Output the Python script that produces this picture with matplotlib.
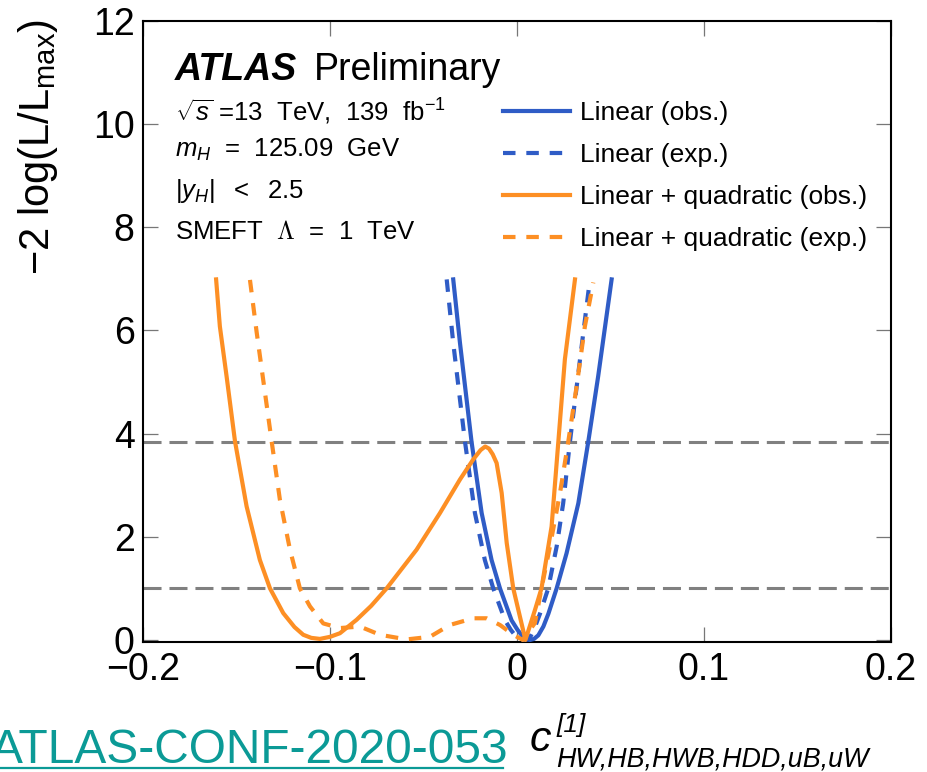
import matplotlib
matplotlib.use("Agg")
import matplotlib.pyplot as plt
from matplotlib.lines import Line2D

plt.rcParams["font.family"] = ["Liberation Sans", "DejaVu Sans"]
plt.rcParams["mathtext.fontset"] = "custom"
plt.rcParams["mathtext.rm"] = "Liberation Sans"
plt.rcParams["mathtext.it"] = "Liberation Sans:italic"
plt.rcParams["mathtext.bf"] = "Liberation Sans:bold"
plt.rcParams["mathtext.sf"] = "Liberation Sans"
plt.rcParams["axes.unicode_minus"] = True

# ---- likelihood scans: -2 log(L/Lmax) versus the Wilson coefficient ----
lin_obs_x = [-0.0341, -0.0305, -0.0243, -0.0189, -0.0136, -0.0091, -0.0029, 0.0002,
             0.0034, 0.0052, 0.0070, 0.0091, 0.0114, 0.0141, 0.0168, 0.0212, 0.0265,
             0.0328, 0.0381, 0.0434, 0.0506]
lin_obs_y = [6.99, 5.76, 3.84, 2.46, 1.55, 1.00, 0.38, 0.20,
             0.05, 0.01, 0.00, 0.02, 0.09, 0.26, 0.51, 1.00, 1.68,
             2.65, 3.84, 5.11, 6.99]

lin_exp_x = [-0.0376, -0.0341, -0.0278, -0.0225, -0.0172, -0.0127, -0.0064, -0.0034,
             -0.0002, 0.0016, 0.0034, 0.0052, 0.0070, 0.0096, 0.0123, 0.0167, 0.0212,
             0.0247, 0.0283, 0.0337, 0.0390]
lin_exp_y = [6.99, 5.76, 3.84, 2.46, 1.55, 1.00, 0.38, 0.20,
             0.05, 0.01, 0.00, 0.01, 0.05, 0.25, 0.51, 1.00, 1.81,
             2.65, 3.84, 5.44, 6.99]

quad_obs_x = [-0.1609, -0.1589, -0.1553, -0.1508, -0.1446, -0.1375, -0.1321, -0.1250,
              -0.1190, -0.1143, -0.1100, -0.1054, -0.1000, -0.0947, -0.0858, -0.0780,
              -0.0697, -0.0537, -0.0412, -0.0305, -0.0234, -0.0195, -0.0170, -0.0150,
              -0.0130, -0.0109, -0.0082, -0.0055, -0.0020, 0.0045, 0.0096, 0.0131,
              0.0185, 0.0221, 0.0256, 0.0310]
quad_obs_y = [6.99, 6.08, 5.11, 3.85, 2.59, 1.55, 1.00, 0.52,
              0.25, 0.10, 0.04, 0.02, 0.06, 0.13, 0.39, 0.66,
              1.00, 1.75, 2.46, 3.11, 3.50, 3.68, 3.75, 3.71,
              3.60, 3.43, 2.85, 1.88, 1.00, 0.00, 0.58, 1.00,
              2.20, 3.84, 5.44, 6.99]

quad_exp_x = [-0.1428, -0.1392, -0.1348, -0.1312, -0.1268, -0.1214, -0.1161, -0.1107,
              -0.1036, -0.0947, -0.0840, -0.0733, -0.0590, -0.0466, -0.0359, -0.0234,
              -0.0163, -0.0091, -0.0020, 0.0031, 0.0096, 0.0131, 0.0176, 0.0230,
              0.0274, 0.0319, 0.0363, 0.0408]
quad_exp_y = [6.98, 5.96, 4.80, 3.85, 2.72, 1.75, 1.00, 0.65,
              0.32, 0.23, 0.26, 0.10, 0.01, 0.06, 0.29, 0.42,
              0.42, 0.29, 0.10, 0.00, 0.33, 1.00, 1.81, 2.85,
              3.84, 4.92, 6.08, 6.93]

# 68% and 95% CL thresholds
cl_levels = [1.0, 3.84]

series_labels = ["Linear (obs.)", "Linear (exp.)",
                 "Linear + quadratic (obs.)", "Linear + quadratic (exp.)"]

x_ticks = [-0.2, -0.1, 0.0, 0.1, 0.2]
x_tick_labels = ["\u22120.2", "\u22120.1", "0", "0.1", "0.2"]
y_ticks = [0, 2, 4, 6, 8, 10, 12]

BLUE = "#2f5cc6"
ORANGE = "#fd8f24"
GREY = "#808080"
TEAL = "#0b9a96"

W, H = 928, 772
fig = plt.figure(figsize=(W / 100, H / 100), dpi=100)
ax = fig.add_axes([143 / W, 1 - 642 / H, (891 - 143) / W, (642 - 21) / H])

for lvl in cl_levels:
    ax.axhline(lvl, color=GREY, lw=2.2, ls=(0, (5.9, 2.6)), zorder=1)

dash = (0, (3.0, 2.6))
ax.plot(lin_obs_x, lin_obs_y, color=BLUE, lw=3, label=series_labels[0], zorder=3,
        solid_joinstyle="round")
ax.plot(lin_exp_x, lin_exp_y, color=BLUE, lw=3, ls=dash, label=series_labels[1], zorder=3)
ax.plot(quad_obs_x, quad_obs_y, color=ORANGE, lw=3, label=series_labels[2], zorder=3,
        solid_joinstyle="round")
ax.plot(quad_exp_x, quad_exp_y, color=ORANGE, lw=3, ls=dash, label=series_labels[3], zorder=3)

ax.set_xlim(-0.2, 0.2)
ax.set_ylim(-0.04, 12)
ax.set_xticks(x_ticks)
ax.set_xticklabels(x_tick_labels)
ax.set_yticks(y_ticks)
ax.tick_params(axis="both", which="major", direction="in", length=11, width=0.9,
               color="#777777", labelsize=27, top=True, right=True)
ax.tick_params(axis="x", pad=7)
ax.tick_params(axis="y", pad=6)
for sp in ax.spines.values():
    sp.set_linewidth(1.5)
    sp.set_color("black")

fig.text(38 / W, 1 - 147 / H, r"$-2\ \log(\mathrm{L}/\mathrm{L}_{\mathrm{max}})$",
         rotation=90, ha="center", va="center", fontsize=30)

leg = ax.legend(loc="upper left", bbox_to_anchor=(503 / W, 1 - 101 / H),
                bbox_transform=fig.transFigure, frameon=False, fontsize=19,
                handlelength=2.55, handletextpad=0.38, labelspacing=0.68,
                borderpad=0, borderaxespad=0)

# experiment label and run conditions
fig.canvas.draw()
renderer = fig.canvas.get_renderer()
t_atlas = fig.text(175 / W, 1 - 80 / H, "ATLAS", fontsize=27, fontweight="bold",
                   fontstyle="italic", va="baseline", ha="left")
bb = t_atlas.get_window_extent(renderer)
fig.text((bb.x1 + 17) / W, 1 - 80 / H, "Preliminary", fontsize=27,
         va="baseline", ha="left")

info_lines = [r"$\sqrt{s}$ =13  TeV,  139  fb$^{-1}$",
              r"$m_H$  =  125.09  GeV",
              r"$|y_H|\ \ <\ \ $2.5",
              r"SMEFT  $\Lambda$  =  1  TeV"]
info_baselines = [121, 157, 198, 239]
info_math = ["custom", "custom", "custom", "cm"]
for txt, yb, mf in zip(info_lines, info_baselines, info_math):
    fig.text(175 / W, 1 - yb / H, txt, fontsize=18.5, va="baseline", ha="left",
             math_fontfamily=mf)

# reference note and coefficient label under the axis
fig.text(-9 / W, 1 - 763 / H, "ATLAS-CONF-2020-053", fontsize=34.5,
         color=TEAL, va="baseline", ha="left")
fig.add_artist(Line2D([0, 503 / W], [1 - 768 / H, 1 - 768 / H], color=TEAL,
                      lw=1.6, transform=fig.transFigure))
fig.text(530 / W, 1 - 751 / H, "c", fontsize=31, fontstyle="italic",
         va="baseline", ha="left")
fig.text(557 / W, 1 - 732 / H, "[1]", fontsize=19, fontstyle="italic",
         va="baseline", ha="left")
fig.text(556 / W, 1 - 767 / H, "HW,HB,HWB,HDD,uB,uW", fontsize=19.4,
         fontstyle="italic", va="baseline", ha="left")

fig.savefig("out.png", dpi=100)
